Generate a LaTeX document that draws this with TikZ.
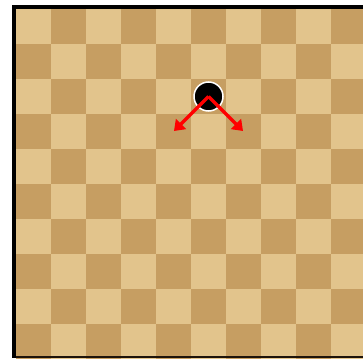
\documentclass[tikz,border=0pt]{standalone}
\usetikzlibrary{arrows.meta}
\definecolor{lightsq}{RGB}{226,196,140}
\definecolor{darksq}{RGB}{198,158,98}
\begin{document}
\begin{tikzpicture}[x=1pt,y=-1pt,
 piece/.style={circle,fill=black,draw=white,line width=1.5pt,minimum size=29pt,inner sep=0pt},
 mv/.style={-{Triangle[length=10pt,width=14pt]},red,line width=3.5pt}
]
 \useasboundingbox (0,0) rectangle (363,358);
 \fill[white] (0,0) rectangle (363,358);
 \begin{scope}
  \clip (0,0) rectangle (363,358);
  % board squares
  \foreach \r in {0,...,9}
   \foreach \c in {0,...,9} {
    \pgfmathtruncatemacro\sqodd{mod(\r+\c,2)}
    \ifnum\sqodd=0 \def\sqcol{lightsq}\else\def\sqcol{darksq}\fi
    \fill[\sqcol] ({16+35*\c},{9+35*\r}) rectangle ++(35,35);
   }
  % frame
  \fill[black] (12,5) rectangle (363,9);
  \fill[black] (12,5) rectangle (16,358);
  \fill[black!85!brown] (16,356) rectangle (363,358);
 \end{scope}
 \node[piece] (man) at (208.5,96.5) {};
 \coordinate (sw) at (174,131);
 \coordinate (se) at (243,131);
 \draw[mv] (man.center) -- (sw);
 \draw[mv] (man.center) -- (se);
\end{tikzpicture}
\end{document}
